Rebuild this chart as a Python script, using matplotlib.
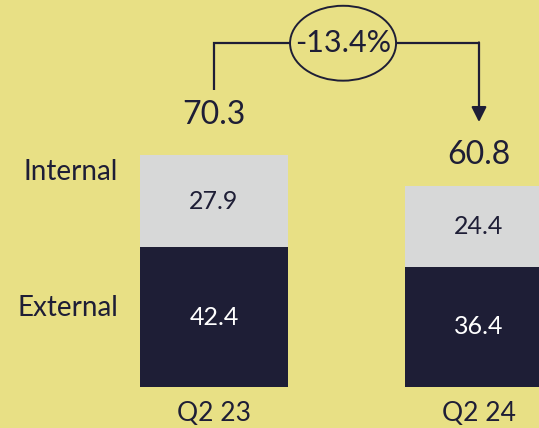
import matplotlib.pyplot as plt
from matplotlib.patches import Ellipse
import numpy as np

plt.rcParams['font.family'] = ['Lato', 'DejaVu Sans']

quarters = ['Q2 23', 'Q2 24']
external = [42.4, 36.4]
internal = [27.9, 24.4]
totals = [70.3, 60.8]
change_label = '-13.4%'
series_names = ['External', 'Internal']

bg = '#E8E085'
navy = '#1E1E36'
grey = '#D7D8D8'

fig = plt.figure(figsize=(5.39, 4.28), dpi=100)
fig.patch.set_facecolor(bg)
ax = fig.add_axes([0, 0, 1, 1])
ax.set_facecolor(bg)
ax.axis('off')

x = np.arange(len(quarters))
w = 0.5585
ax.bar(x, external, width=w, color=navy, edgecolor='none')
ax.bar(x, internal, width=w, bottom=external, color=grey, edgecolor='none')

for i in range(len(x)):
    ax.text(x[i], external[i] / 2, f'{external[i]:.1f}', ha='center', va='center',
            color='white', fontsize=18)
    ax.text(x[i], external[i] + internal[i] / 2, f'{internal[i]:.1f}', ha='center',
            va='center', color=navy, fontsize=18)
    ax.text(x[i], -8, quarters[i], ha='center', va='center', color=navy, fontsize=19)

# totals above bars
offsets = [12.1, 9.6]
for i in range(len(x)):
    ax.text(x[i], totals[i] + offsets[i], f'{totals[i]:.1f}', ha='center', va='center',
            color=navy, fontsize=23)

# series labels to the left of the first bar
ax.text(-0.362, 65.2, series_names[1], ha='right', va='center', color=navy, fontsize=20)
ax.text(-0.362, 23.9, series_names[0], ha='right', va='center', color=navy, fontsize=20)

# change bracket
top_y = 104.2
ax.plot([x[0], x[0], x[1]], [90, top_y, top_y], color=navy, lw=1.6, solid_capstyle='butt',
        solid_joinstyle='miter', zorder=3)
ax.annotate('', xy=(x[1], 80.3), xytext=(x[1], top_y + 0.25),
            arrowprops=dict(arrowstyle='-|>,head_length=0.9,head_width=0.45', color=navy,
                            lw=1.6, shrinkA=0, shrinkB=0), zorder=3)
ell = Ellipse((0.487, top_y), 0.40, 22.7, facecolor=bg, edgecolor=navy, lw=1.4, zorder=4)
ax.add_patch(ell)
ax.text(0.487, top_y, change_label, ha='center', va='center', color=navy, fontsize=22, zorder=5)

ax.set_xlim(-0.8075, 1.2264)
ax.set_ylim(-12.42, 117.3)

fig.savefig('out.png', dpi=100, facecolor=bg)
